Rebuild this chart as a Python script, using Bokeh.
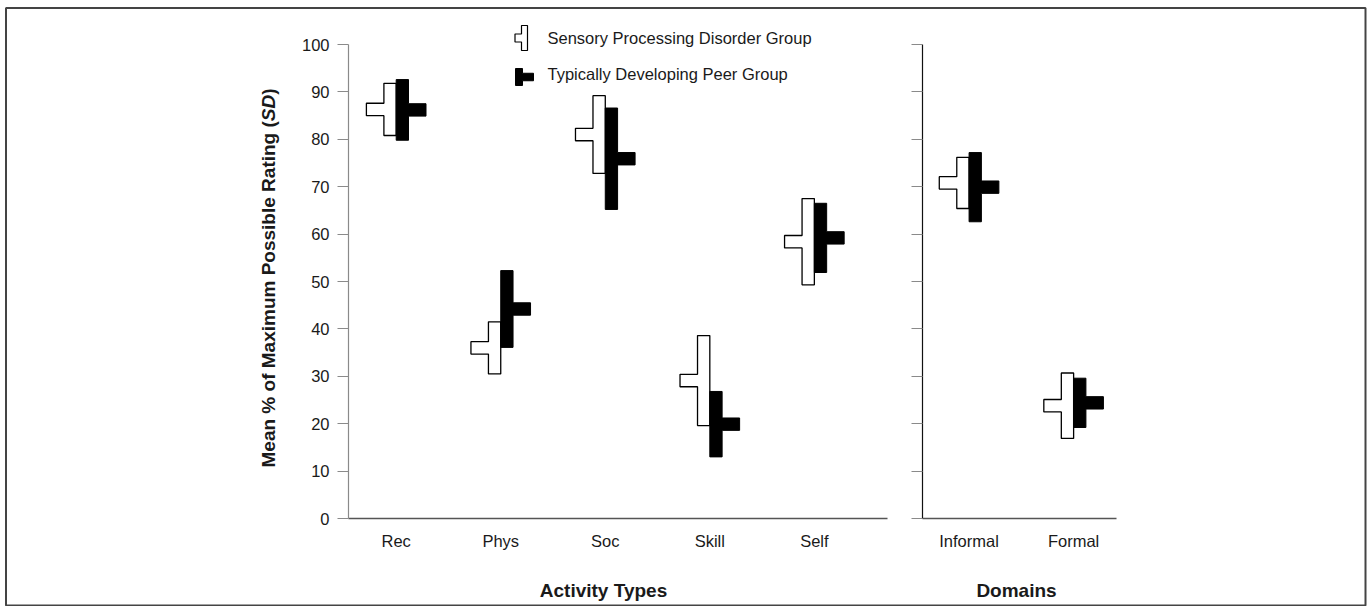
import math
from bokeh.plotting import figure
from bokeh.models import Range1d, FixedTicker, Label, LinearAxis
from bokeh.embed import file_html
from bokeh.resources import INLINE
from bokeh.core.properties import value

# ---------------- data ----------------
cats_left = ["Rec", "Phys", "Soc", "Skill", "Self"]
cats_right = ["Informal", "Formal"]
spd_mean_left = [86.3, 36.0, 81.0, 29.1, 58.4]
spd_sd_left = [5.5, 5.5, 8.2, 9.5, 9.1]
td_mean_left = [86.2, 44.2, 75.9, 19.9, 59.2]
td_sd_left = [6.4, 8.1, 10.7, 6.9, 7.3]
spd_mean_right = [70.8, 23.8]
spd_sd_right = [5.4, 6.9]
td_mean_right = [69.9, 24.4]
td_sd_right = [7.3, 5.2]
y_ticks = list(range(0, 101, 10))
legend_labels = ["Sensory Processing Disorder Group", "Typically Developing Peer Group"]
x_titles = ["Activity Types", "Domains"]
y_title = ["Mean % of Maximum Possible Rating (", "SD", ")"]

FONT = "Liberation Sans"
TXT = "#1a1a1a"
W, H = 1368, 606

# ---- layout: pixel anchors of the reference (page coordinates) ----
X0_PX, PX_PER_X = 395.7, 104.54      # category 0 position and px per category
Y0_PX, PX_PER_Y = 518.0, 4.74        # value 0 position and px per unit
RIGHT_OFFSET = 5.48                  # right panel categories start here


def X(px):
    return (px - X0_PX) / PX_PER_X


def Y(py):
    return (Y0_PX - py) / PX_PER_Y


BW = 12.3 / PX_PER_X    # bar width
TW = 17.5 / PX_PER_X    # tab width
TH = 6.2 / PX_PER_Y     # half tab height


def shape(c, m, half, bw, tw, th, side):
    top, bot = m + half, m - half
    if side == "left":
        xs = [c, c, c - bw, c - bw, c - bw - tw, c - bw - tw, c - bw, c - bw]
    else:
        xs = [c, c, c + bw, c + bw, c + bw + tw, c + bw + tw, c + bw, c + bw]
    ys = [bot, top, top, m + th, m + th, m - th, m - th, bot]
    return xs, ys


p = figure(width=W, height=H, x_range=Range1d(X(0), X(W)), y_range=Range1d(Y(H), Y(0)),
           output_backend="svg", toolbar_location=None, title=None,
           x_axis_location=None, y_axis_location=None,
           min_border=0, min_border_left=0, min_border_right=0,
           min_border_top=0, min_border_bottom=0,
           background_fill_color="white", border_fill_color="white",
           outline_line_color=None)
p.grid.visible = False

# outer border
p.quad(left=[X(5.5)], right=[X(1365)], top=[Y(7.5)], bottom=[Y(605)],
       fill_color=None, line_color="#444444", line_width=2)


def y_axis(loc, color, labels):
    ax = LinearAxis(fixed_location=loc, bounds=(0, 100), ticker=FixedTicker(ticks=y_ticks))
    ax.axis_line_color = color
    ax.axis_line_width = 1.2
    ax.major_tick_line_color = "#8a8a8a"
    ax.major_tick_line_width = 1.2
    ax.major_tick_out = 11
    ax.major_tick_in = 0
    ax.minor_tick_line_color = None
    ax.major_label_text_font = FONT
    ax.major_label_text_font_size = "16.5px"
    ax.major_label_text_color = TXT if labels else None
    ax.major_label_standoff = 8
    p.add_layout(ax, "left")


def x_axis(lo_px, hi_px, ticks, cats):
    ax = LinearAxis(fixed_location=0, bounds=(X(lo_px), X(hi_px)), ticker=FixedTicker(ticks=ticks))
    ax.axis_line_color = "#555555"
    ax.axis_line_width = 1.5
    ax.major_tick_line_color = None
    ax.minor_tick_line_color = None
    ax.major_tick_out = 0
    ax.major_tick_in = 0
    ax.major_label_text_font = FONT
    ax.major_label_text_font_size = "16.5px"
    ax.major_label_text_color = TXT
    ax.major_label_standoff = 13
    ax.major_label_overrides = {t: c for t, c in zip(ticks, cats)}
    p.add_layout(ax, "below")


left_pos = list(range(len(cats_left)))
right_pos = [RIGHT_OFFSET + i for i in range(len(cats_right))]

y_axis(X(348), "#8a8a8a", True)
y_axis(X(922), "#111111", False)
x_axis(348, 887, left_pos, cats_left)
x_axis(922, 1116, right_pos, cats_right)


def draw_marks(pos, sm, ss, tm, ts):
    wx, wy, bx, by = [], [], [], []
    for i, c in enumerate(pos):
        a, b = shape(c, sm[i], ss[i], BW, TW, TH, "left")
        wx.append(a); wy.append(b)
        a, b = shape(c, tm[i], ts[i], BW, TW, TH, "right")
        bx.append(a); by.append(b)
    p.patches(wx, wy, fill_color="white", line_color="black", line_width=1.3)
    p.patches(bx, by, fill_color="black", line_color="black", line_width=1.0)


draw_marks(left_pos, spd_mean_left, spd_sd_left, td_mean_left, td_sd_left)
draw_marks(right_pos, spd_mean_right, spd_sd_right, td_mean_right, td_sd_right)

# legend (hand-drawn keys)
lx1, ly1 = shape(X(527), Y(37.5), 12.5 / PX_PER_Y, 6 / PX_PER_X, 6.5 / PX_PER_X, 4 / PX_PER_Y, "left")
lx2, ly2 = shape(X(515), Y(76.5), 8.5 / PX_PER_Y, 7 / PX_PER_X, 11 / PX_PER_X, 3.75 / PX_PER_Y, "right")
p.patch(lx1, ly1, fill_color="white", line_color="black", line_width=1.2)
p.patch(lx2, ly2, fill_color="black", line_color="black", line_width=1.0)
p.text(x=[X(547), X(547)], y=[Y(37), Y(73)], text=legend_labels,
       text_font=value(FONT), text_font_size="16.5px", text_color=TXT,
       text_align="left", text_baseline="middle")

# y-axis title in three pieces (SD in italics)
yt_x = X(268)
for txt, py, style in [(y_title[0], 120.7, "bold"), (y_title[1], 94.3, "bold italic"),
                       (y_title[2], 88.0, "bold")]:
    p.add_layout(Label(x=yt_x, y=Y(py), text=txt, angle=math.pi / 2,
                       text_align="right", text_baseline="middle", text_font=FONT,
                       text_font_style=style, text_font_size="19px", text_color=TXT))

# x titles
for txt, px in zip(x_titles, [603, 1016]):
    p.add_layout(Label(x=X(px), y=Y(590), text=txt, text_align="center",
                       text_baseline="middle", text_font=FONT, text_font_style="bold",
                       text_font_size="19px", text_color=TXT))

open("out.html", "w").write(file_html(p, INLINE))
